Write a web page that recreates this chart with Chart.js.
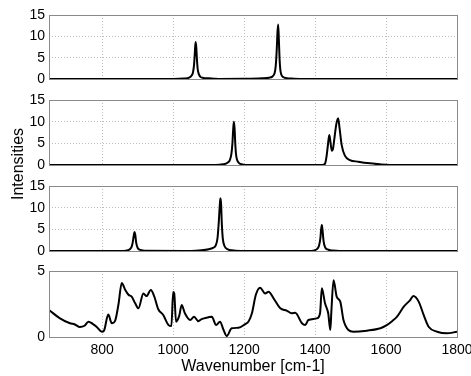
<!DOCTYPE html>
<html>
<head>
<meta charset="utf-8">
<script src="https://cdn.jsdelivr.net/npm/chart.js@4"></script>
<style>
    body { margin: 0; background: #fff; }
    #wrap { position: relative; width: 471px; height: 376px; overflow: hidden; font-family: "Liberation Sans", Arial, sans-serif; }
    .panel { position: absolute; left: 0; }
    #ylab { position: absolute; left: 18px; top: 164px; transform: translate(-50%, -50%) rotate(-90deg); font-size: 16px; white-space: nowrap; color: #000; }
</style>
</head>
<body>
<div id="wrap">
    <canvas class="panel" id="p1" width="471" height="84" style="top:5px"></canvas>
    <canvas class="panel" id="p2" width="471" height="85" style="top:90px"></canvas>
    <canvas class="panel" id="p3" width="471" height="85" style="top:176px"></canvas>
    <canvas class="panel" id="p4" width="471" height="115" style="top:261px"></canvas>
    <div id="ylab">Intensities</div>
</div>
<script>
const xTicks = [800, 1000, 1200, 1400, 1600, 1800];
const yTicksPeaks = [0, 5, 10, 15];
const yTicksSpectrum = [0, 5];

const wn1 = [650, 1000, 1030, 1045, 1052, 1056, 1059, 1061, 1063, 1065, 1067, 1069, 1072, 1077, 1085, 1100, 1115, 1130, 1200, 1250, 1270, 1280, 1286, 1289, 1292, 1294, 1296, 1298, 1300, 1302, 1305, 1310, 1320, 1340, 1370, 1800];
const int1 = [0, 0.02, 0.1, 0.3, 0.8, 1.6, 3.5, 6, 8.7, 7.6, 4.6, 2.4, 1.2, 0.5, 0.25, 0.15, 0.08, 0, 0.03, 0.15, 0.3, 0.6, 1.4, 3, 7, 11, 12.8, 9, 4.5, 2.2, 1.0, 0.45, 0.2, 0.08, 0, 0];

const wn2 = [650, 1120, 1140, 1152, 1160, 1164, 1167, 1169, 1171, 1173, 1175, 1177, 1180, 1185, 1195, 1210, 1420, 1428, 1432, 1436, 1440, 1443, 1447, 1450, 1455, 1460, 1465, 1469, 1475, 1484, 1498, 1522, 1555, 1583, 1611, 1800];
const int2 = [0, 0.02, 0.15, 0.45, 1.2, 2.5, 5, 8, 10, 8.5, 5, 2.6, 1.2, 0.5, 0.15, 0, 0, 0.3, 1.8, 4.5, 6.9, 5.5, 3.3, 3.6, 6.5, 9.5, 10.8, 8.5, 4.6, 2.15, 1.15, 0.77, 0.38, 0.15, 0.02, 0];

const wn3 = [650, 850, 870, 878, 883, 886, 889, 891, 893, 896, 900, 908, 920, 1050, 1080, 1100, 1112, 1120, 1125, 1128, 1131, 1133, 1135, 1137, 1140, 1145, 1152, 1165, 1190, 1380, 1398, 1406, 1411, 1415, 1417, 1419, 1421, 1424, 1428, 1435, 1450, 1470, 1800];
const int3 = [0, 0.02, 0.15, 0.4, 1.0, 2.0, 3.6, 4.4, 3.8, 1.8, 0.7, 0.25, 0.05, 0, 0.15, 0.4, 0.7, 1.3, 3, 6, 10, 12.2, 11, 6.5, 2.8, 1.1, 0.45, 0.15, 0.02, 0, 0.15, 0.5, 1.2, 3, 5, 6.0, 4.8, 2.2, 0.9, 0.35, 0.1, 0, 0];

const wn4 = [650, 681, 709, 723, 737, 750, 761, 773, 784, 799, 805, 817, 827, 836, 846, 855, 865, 874, 883, 893, 902, 916, 925, 937, 947, 958, 972, 987, 995, 1000, 1003, 1008, 1017, 1024, 1033, 1048, 1059, 1071, 1080, 1100, 1109, 1121, 1132, 1142, 1151, 1165, 1184, 1203, 1212, 1222, 1233, 1245, 1259, 1269, 1283, 1302, 1320, 1334, 1344, 1363, 1372, 1381, 1405, 1414, 1419, 1428, 1437, 1443, 1446, 1452, 1461, 1471, 1480, 1494, 1508, 1546, 1584, 1602, 1617, 1631, 1650, 1668, 1677, 1692, 1706, 1720, 1744, 1772, 1800];
const int4 = [2.05, 1.41, 1.04, 0.95, 0.75, 0.85, 1.16, 1.0, 0.78, 0.4, 0.48, 1.7, 1.04, 1.2, 2.5, 4.1, 3.56, 3.2, 3.05, 2.55, 2.17, 3.3, 3.1, 3.56, 3.05, 2.1, 1.67, 0.9, 0.83, 3.4, 3.3, 1.16, 1.6, 2.42, 1.8, 1.29, 1.54, 1.2, 1.35, 1.5, 1.54, 0.9, 1.16, 0.53, 0.08, 0.66, 0.7, 0.98, 1.16, 1.8, 3.2, 3.74, 3.3, 3.43, 2.93, 2.17, 2.0, 1.8, 1.84, 1.04, 0.9, 1.29, 1.41, 1.8, 3.69, 2.55, 1.8, 0.53, 2.0, 4.3, 3.05, 2.68, 1.29, 0.53, 0.4, 0.48, 0.66, 0.9, 1.2, 1.54, 2.3, 2.8, 3.1, 2.68, 1.67, 0.78, 0.4, 0.28, 0.4];

const FONT = "'Liberation Sans', Arial, sans-serif";

const boxPlugin = {
    id: "box",
    afterDraw(chart) {
        const a = chart.chartArea;
        const ctx = chart.ctx;
        ctx.save();
        ctx.strokeStyle = "#8a8a8a";
        ctx.lineWidth = 1;
        ctx.strokeRect(Math.round(a.left) + 0.5, Math.round(a.top) + 0.5, Math.round(a.right - a.left), Math.round(a.bottom - a.top));
        ctx.restore();
    }
};

function makePanel(id, xs, ys, yMax, yTicks, bottomH, showX) {
    new Chart(document.getElementById(id), {
        type: "line",
        data: {
            datasets: [{
                data: xs.map((x, i) => ({ x: x, y: ys[i] })),
                borderColor: "#000",
                borderWidth: 2,
                pointRadius: 0,
                cubicInterpolationMode: "monotone",
                fill: false
            }]
        },
        options: {
            responsive: false,
            animation: false,
            layout: { padding: { top: 10, right: 14, left: 0, bottom: 0 } },
            plugins: { legend: { display: false }, tooltip: { enabled: false } },
            scales: {
                x: {
                    type: "linear",
                    min: 650,
                    max: 1800,
                    afterBuildTicks: s => { s.ticks = xTicks.map(v => ({ value: v })); },
                    afterFit: s => { s.height = bottomH; s.paddingLeft = 0; s.paddingRight = 0; },
                    grid: { color: "#bdbdbd", lineWidth: 1, drawTicks: false },
                    border: { display: false, dash: [1, 2] },
                    ticks: {
                        display: showX,
                        autoSkip: false,
                        maxRotation: 0,
                        padding: 5,
                        color: "#000",
                        font: { family: FONT, size: 14 },
                        callback: v => String(v)
                    },
                    title: {
                        display: showX,
                        text: "Wavenumber [cm-1]",
                        color: "#000",
                        font: { family: FONT, size: 16 },
                        padding: { top: 0, bottom: 0 }
                    }
                },
                y: {
                    min: 0,
                    max: yMax,
                    afterBuildTicks: s => { s.ticks = yTicks.map(v => ({ value: v })); },
                    afterFit: s => { s.width = 49; s.paddingTop = 0; s.paddingBottom = 0; },
                    grid: { color: "#bdbdbd", lineWidth: 1, drawTicks: false },
                    border: { display: false, dash: [1, 2] },
                    ticks: {
                        autoSkip: false,
                        padding: 4,
                        color: "#000",
                        font: { family: FONT, size: 14 },
                        callback: v => String(v)
                    }
                }
            }
        },
        plugins: [boxPlugin]
    });
}

makePanel("p1", wn1, int1, 15, yTicksPeaks, 10, false);
makePanel("p2", wn2, int2, 15, yTicksPeaks, 10, false);
makePanel("p3", wn3, int3, 15, yTicksPeaks, 10, false);
makePanel("p4", wn4, int4, 5, yTicksSpectrum, 39, true);
</script>
</body>
</html>
